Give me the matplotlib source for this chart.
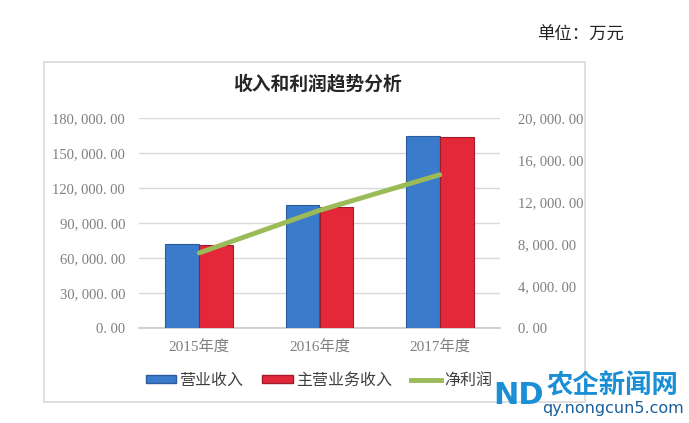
import matplotlib.pyplot as plt
from matplotlib.patches import Rectangle, Patch
from matplotlib.lines import Line2D
import numpy as np

plt.rcParams['font.family'] = ['Liberation Serif', 'Noto Sans CJK SC']

# data (万元)
years = ["2015年度", "2016年度", "2017年度"]
revenue = [72000, 105400, 164600]        # 营业收入
main_revenue = [71300, 103800, 163800]   # 主营业务收入
net_profit = [7150, 11200, 14600]        # 净利润
left_ticks = [0, 30000, 60000, 90000, 120000, 150000, 180000]
right_ticks = [0, 4000, 8000, 12000, 16000, 20000]


def fmt(v):
    """Formats like '180, 000. 00'"""
    return f"{v:,.2f}".replace(",", ", ").replace(".", ". ")


def main():
    fig = plt.figure(figsize=(6.89, 4.23), dpi=100)

    # outer chart border
    fig.patches.append(Rectangle((44 / 689, 21 / 423), 541 / 689, 340 / 423,
                                 transform=fig.transFigure, fill=False,
                                 edgecolor="#d9d9d9", linewidth=1.2))

    ax = fig.add_axes([139 / 689, 95 / 423, 361 / 689, 210 / 423])
    x = np.arange(len(years))
    w = 0.28
    ax.bar(x - w / 2, revenue, w, color="#3b7bcb", edgecolor="#2b5d9e",
           linewidth=0.8, zorder=3)
    ax.bar(x + w / 2, main_revenue, w, color="#e3283a", edgecolor="#a11c28",
           linewidth=0.8, zorder=3)
    ax.set_xlim(-0.5, 2.5)
    ax.set_ylim(0, 180000)
    ax.set_yticks(left_ticks, labels=[fmt(v) for v in left_ticks])
    ax.set_xticks(x, labels=years)
    ax.grid(axis="y", color="#d9d9d9", linewidth=1, zorder=0)
    for s in ["top", "left", "right"]:
        ax.spines[s].set_visible(False)
    ax.spines["bottom"].set_color("#c8c8c8")
    ax.spines["bottom"].set_linewidth(1.2)
    ax.tick_params(axis="both", length=0, colors="#7f7f7f", labelsize=10.5)
    ax.tick_params(axis="y", pad=10)
    ax.tick_params(axis="x", pad=9, labelsize=11)

    ax2 = ax.twinx()
    ax2.plot(x, net_profit, color="#9bbb59", linewidth=3.5,
             solid_capstyle="round", zorder=4)
    ax2.set_ylim(0, 20000)
    ax2.set_yticks(right_ticks, labels=[fmt(v) for v in right_ticks])
    for s in ax2.spines.values():
        s.set_visible(False)
    ax2.tick_params(axis="y", length=0, colors="#7f7f7f", labelsize=10.5,
                    pad=13)

    fig.text(317 / 689, 1 - 84 / 423, "收入和利润趋势分析", ha="center",
             va="center", fontsize=13.5, fontweight="bold", color="#262626",
             family=["Noto Sans CJK SC"])
    fig.text(580 / 689, 1 - 35 / 423, "单位：万元", ha="center", va="center",
             fontsize=12.5, color="#222222", family=["Noto Sans CJK SC"])

    handles = [Patch(facecolor="#3b7bcb", edgecolor="#2b5d9e"),
               Patch(facecolor="#e3283a", edgecolor="#a11c28"),
               Line2D([], [], color="#9bbb59", linewidth=3.5)]
    fig.legend(handles, ["营业收入", "主营业务收入", "净利润"], loc="center",
               bbox_to_anchor=(319 / 689, 1 - 380 / 423), ncol=3,
               frameon=False, handlelength=1.9, handleheight=0.45,
               columnspacing=1.2, handletextpad=0.2,
               prop={"family": "Noto Sans CJK SC", "size": 11.5},
               labelcolor="#404040")

    # watermark
    fig.text(519 / 689, 1 - 395 / 423, "ND", ha="center", va="center",
             fontsize=22, fontweight="bold", color="#1b8fd6",
             family=["DejaVu Sans"], zorder=10)
    fig.text(613 / 689, 1 - 386 / 423, "农企新闻网", ha="center", va="center",
             fontsize=19, fontweight="bold", color="#1b8fd6",
             family=["Noto Sans CJK SC"], zorder=10)
    fig.text(613 / 689, 1 - 408 / 423, "qy.nongcun5.com", ha="center",
             va="center", fontsize=11.5, color="#1b5f9a",
             family=["DejaVu Sans"], zorder=10)

    fig.savefig("out.png", dpi=100)
    return 0


if __name__ == "__main__":
    main()
